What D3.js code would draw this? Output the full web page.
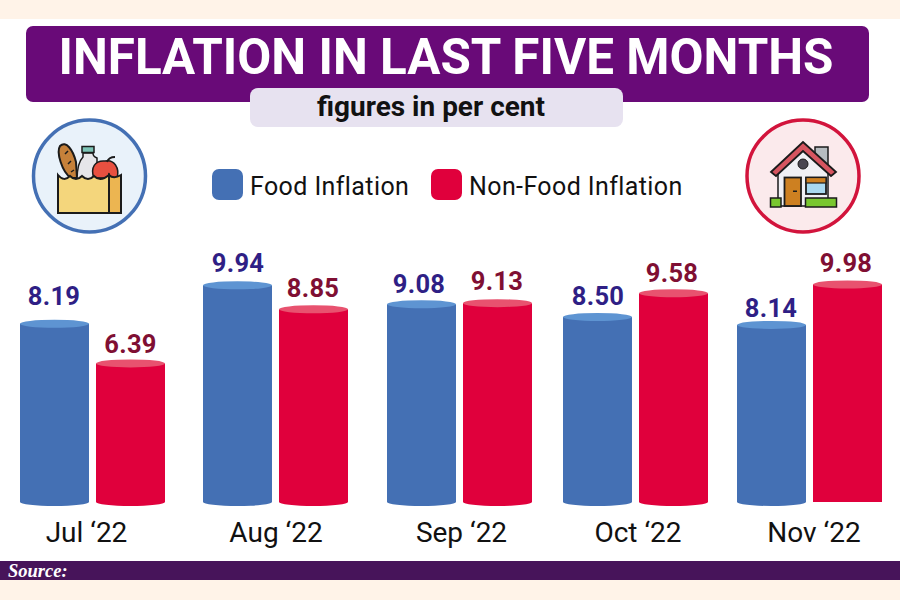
<!DOCTYPE html>
<html><head><meta charset="utf-8">
<script src="https://cdnjs.cloudflare.com/ajax/libs/d3/7.8.5/d3.min.js"></script>
<style>html,body{margin:0;padding:0;background:#fff}svg{display:block}text{font-family:Roboto,sans-serif}</style>
</head><body><svg id="c" width="900" height="600"></svg>
<script>
const titleText = "INFLATION IN LAST FIVE MONTHS";
const subtitleText = "figures in per cent";
const sourceText = "Source:";
const months = ["Jul ‘22","Aug ‘22","Sep ‘22","Oct ‘22","Nov ‘22"];
const seriesNames = ["Food Inflation","Non-Food Inflation"];
const foodValues = [8.19,9.94,9.08,8.50,8.14];
const nonFoodValues = [6.39,8.85,9.13,9.58,9.98];

// Hand-placed label layout of the original, kept apart from the data
const foodLabelLift = [19,13,11,12,8];
const nonFoodLabelLift = [10,12,13,11,12];
const foodLabelShift = [-0.5,0.5,-2.5,0.5,-0.5];
const nonFoodLabelShift = [0,-0.5,-0.5,-1.5,-1.5];

const svg = d3.select("#c");
const C = {purple:"#690a78",blue:"#4470b4",blueTop:"#5e94d2",red:"#e0003c",redTop:"#e8526f",
  blueText:"#2f1f85",redText:"#7f0f33",band:"#47145a",cream:"#fff3e8",lav:"#e7e2f0"};

// Page frame
svg.append("rect").attr("width",900).attr("height",600).attr("fill","#fff");
svg.append("rect").attr("width",900).attr("height",19).attr("fill",C.cream);
svg.append("rect").attr("y",580).attr("width",900).attr("height",20).attr("fill",C.cream);
svg.append("rect").attr("y",561).attr("width",900).attr("height",19).attr("fill",C.band);
svg.append("text").attr("x",8).attr("y",577).attr("fill","#fff")
  .style("font-family","'Liberation Serif',serif").style("font-weight",700).style("font-style","italic").style("font-size","18.5px").text(sourceText);

// Header
svg.append("rect").attr("x",26).attr("y",26).attr("width",843).attr("height",76).attr("rx",7).attr("fill",C.purple);
svg.append("text").attr("x",446).attr("y",74).attr("text-anchor","middle").attr("fill","#fff")
  .style("font-weight",700).style("font-size","50.5px").attr("textLength",775).attr("lengthAdjust","spacingAndGlyphs").text(titleText);
svg.append("rect").attr("x",250).attr("y",88).attr("width",373).attr("height",39).attr("rx",8).attr("fill",C.lav);
svg.append("text").attr("x",431).attr("y",116).attr("text-anchor","middle").attr("fill","#111")
  .style("font-weight",700).style("font-size","27.5px").attr("textLength",228).attr("lengthAdjust","spacingAndGlyphs").text(subtitleText);

// Legend
const legendX = d3.scaleOrdinal().domain(seriesNames).range([212,431]);
const color = d3.scaleOrdinal().domain(seriesNames).range([C.blue,C.red]);
const legend = svg.append("g").selectAll("g").data(seriesNames).join("g")
  .attr("transform",d=>`translate(${legendX(d)},169)`);
legend.append("rect").attr("width",31).attr("height",31).attr("rx",7).attr("fill",d=>color(d));
legend.append("text").attr("x",38).attr("y",26).attr("fill","#111").style("font-size","25px").style("letter-spacing","0.4px").text(d=>d);

// Scales
const y = d3.scaleLinear().domain([0,10]).range([504,284]);
const groupX = d3.scaleOrdinal().domain(months).range([20,203,387,563,737]);
const labelX = d3.scaleOrdinal().domain(months).range([86.5,276,461.5,638,814]);
const seriesOffset = d3.scaleOrdinal().domain(seriesNames).range([0,76]);
const barW = 69, ry = 4;
const rows = months.flatMap((m,i)=>[
  {m,s:seriesNames[0],v:foodValues[i],lift:foodLabelLift[i],shift:foodLabelShift[i]},
  {m,s:seriesNames[1],v:nonFoodValues[i],lift:nonFoodLabelLift[i],shift:nonFoodLabelShift[i]}]);

const bars = svg.append("g").selectAll("g").data(rows).join("g")
  .attr("transform",d=>`translate(${groupX(d.m)+seriesOffset(d.s)},0)`);
bars.append("path").attr("fill",d=>color(d.s)).attr("d",d=>{
  const t=y(d.v), b=y(0);
  const flat = d.m===months[4] && d.s===seriesNames[1];
  return flat
    ? `M0,${t}V${b-2}H${barW}V${t}Z`
    : `M0,${t}V${b-2}A${barW/2},${ry} 0 0 0 ${barW},${b-2}V${t}Z`;
});
bars.append("ellipse").attr("cx",barW/2).attr("cy",d=>y(d.v)).attr("rx",barW/2).attr("ry",ry)
  .attr("fill",d=>d.s===seriesNames[0]?C.blueTop:C.redTop);
bars.append("text").attr("x",d=>barW/2+d.shift).attr("y",d=>y(d.v)-d.lift).attr("text-anchor","middle")
  .attr("fill",d=>d.s===seriesNames[0]?C.blueText:C.redText)
  .style("font-weight",700).style("font-size","25.5px").style("letter-spacing","0.3px").text(d=>d.v.toFixed(2));

// Month axis
const xAxis = d3.axisBottom(d3.scalePoint().domain(months).range([0,1])).tickSize(0);
const ax = svg.append("g").call(xAxis);
ax.select(".domain").remove();
ax.selectAll(".tick").attr("transform",d=>`translate(${labelX(d)},0)`);
ax.selectAll("text").attr("y",542).attr("dy",0).attr("text-anchor","middle").attr("fill","#111")
  .style("font-family","Roboto,sans-serif").style("font-size","28px");

// Grocery icon
const k = "#1b1b1b";
const g1 = svg.append("g");
g1.append("circle").attr("cx",89.5).attr("cy",176).attr("r",56).attr("fill","#e9f2fa").attr("stroke","#4470b4").attr("stroke-width",3.5);
g1.append("path").attr("d","M71,178C62,172 56,152 60,146C66,140 73,150 76,162L77,178Z").attr("fill","#c6813a").attr("stroke",k).attr("stroke-width",2);
g1.append("path").attr("d","M65,154l3,-3M68,164l3,-3M71,172l3,-2").attr("stroke",k).attr("stroke-width",1.5);
g1.append("path").attr("d","M83,153V157C78,162 77,170 77,180H97V158C94,157 93,156 93,153Z").attr("fill","#e6e6ea").attr("stroke",k).attr("stroke-width",1.5);
g1.append("rect").attr("x",82).attr("y",146.5).attr("width",12).attr("height",6).attr("fill","#7cc4b6").attr("stroke",k).attr("stroke-width",1.5);
g1.append("path").attr("d","M94,178C90,168 95,160 105,161C114,159 120,168 117,178Z").attr("fill","#e85040").attr("stroke",k).attr("stroke-width",1.5);
g1.append("path").attr("d","M107,162C108,159 111,157 115,157").attr("fill","none").attr("stroke",k).attr("stroke-width",1.8);
g1.append("path").attr("d","M58,175C62,180 66,180 70,176C74,180 78,180 82,176C86,180 90,180 94,176C98,180 103,180 109,175V213H58Z").attr("fill","#f4d67c").attr("stroke",k).attr("stroke-width",2);
g1.append("path").attr("d","M109,175C112,178 116,178 121,175V213H109Z").attr("fill","#ecb551").attr("stroke",k).attr("stroke-width",2);

// House icon
const g2 = svg.append("g");
g2.append("circle").attr("cx",803).attr("cy",176).attr("r",56).attr("fill","#fbeaec").attr("stroke","#d2143c").attr("stroke-width",3.5);
g2.append("rect").attr("x",815).attr("y",147).attr("width",13).attr("height",22).attr("fill","#b6bcc0").attr("stroke",k).attr("stroke-width",1.5);
g2.append("path").attr("d","M778,170L803,149L828,170V206H778Z").attr("fill","#f0f0f4").attr("stroke",k).attr("stroke-width",1.5);
g2.append("path").attr("d","M771,172L803,142L836,172L831,176L803,151L776,176Z").attr("fill","#d65560").attr("stroke",k).attr("stroke-width",1.8);
g2.append("circle").attr("cx",803).attr("cy",164).attr("r",5).attr("fill","#4a4650").attr("stroke",k);
g2.append("rect").attr("x",784.5).attr("y",177.5).attr("width",16.5).attr("height",28.5).attr("fill","#cd8021").attr("stroke",k).attr("stroke-width",1.8);
g2.append("rect").attr("x",793).attr("y",190.5).attr("width",4).attr("height",1.5).attr("fill",k);
g2.append("rect").attr("x",806).attr("y",177.5).attr("width",20).attr("height",16.5).attr("fill","#a9d9f0").attr("stroke",k).attr("stroke-width",1.8);
g2.append("rect").attr("x",806).attr("y",177.5).attr("width",20).attr("height",5.5).attr("fill","#cd8021").attr("stroke",k).attr("stroke-width",1.2);
g2.append("rect").attr("x",770.5).attr("y",198).attr("width",10.5).attr("height",9).attr("fill","#79c72f").attr("stroke",k).attr("stroke-width",1.5);
g2.append("rect").attr("x",805.5).attr("y",198).attr("width",31).attr("height",9).attr("fill","#79c72f").attr("stroke",k).attr("stroke-width",1.5);
</script></body></html>
